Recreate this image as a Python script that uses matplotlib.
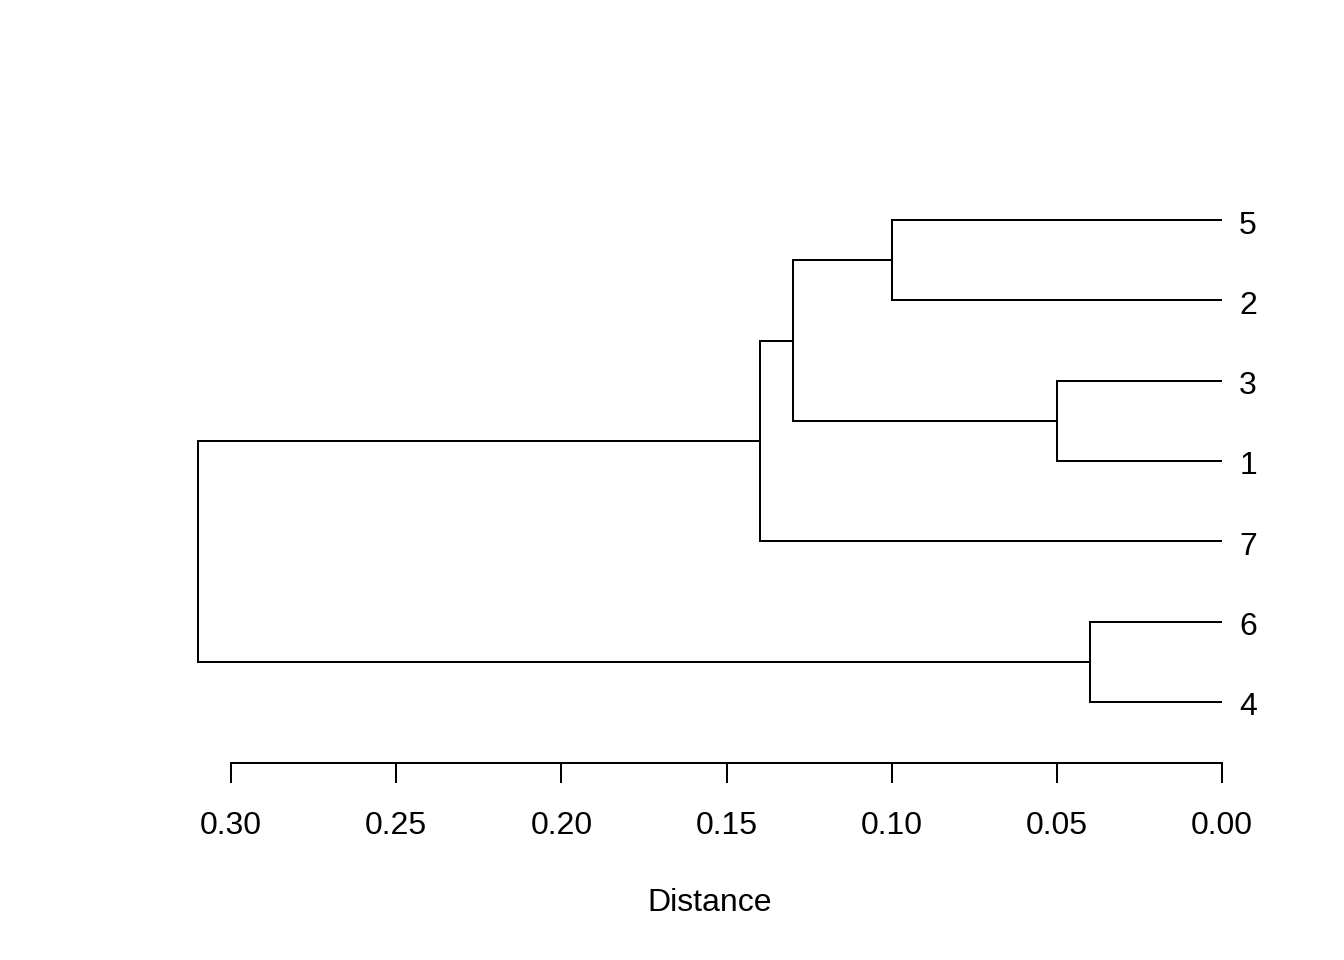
import numpy as np
import matplotlib.pyplot as plt

plt.rcParams['font.family'] = ['Liberation Sans', 'DejaVu Sans']

# hclust-style merges: negative = leaf id, positive = earlier merge step
leaf_order = [5, 2, 3, 1, 7, 6, 4]          # top to bottom
merge_left = [-5, -3, 1, 3, -6, 4]
merge_right = [-2, -1, 2, -7, -4, 5]
heights = [0.10, 0.05, 0.13, 0.14, 0.04, 0.31]
ticks = [0.30, 0.25, 0.20, 0.15, 0.10, 0.05, 0.00]
tick_labels = ["0.30", "0.25", "0.20", "0.15", "0.10", "0.05", "0.00"]

fig = plt.figure(figsize=(13.44, 9.6), dpi=100)
W, H = 1344, 960
ax = fig.add_axes([157 / W, (H - 763) / H, (1263 - 157) / W, (763 - 159) / H])

n = len(leaf_order)
leaf_y = {lab: n - i for i, lab in enumerate(leaf_order)}
node_pos = {}

def pos(c):
    if c < 0:
        return 0.0, leaf_y[-c]
    return node_pos[c]

lw = 1.44
for k, (a, b, h) in enumerate(zip(merge_left, merge_right, heights), start=1):
    xa, ya = pos(a)
    xb, yb = pos(b)
    ax.plot([xa, h, h, xb], [ya, ya, yb, yb], color='black', lw=lw,
            solid_joinstyle='miter', solid_capstyle='butt')
    node_pos[k] = (h, (ya + yb) / 2)

for lab, y in leaf_y.items():
    ax.text(-0.0052, y - 0.168, str(lab), fontsize=23, va='baseline', ha='left')

ax.set_xlim(0.3224, -0.0124)
ax.set_ylim(0.24, 7.76)
for s in ['top', 'left', 'right']:
    ax.spines[s].set_visible(False)
ax.spines['bottom'].set_bounds(0.0, 0.30)
ax.spines['bottom'].set_linewidth(lw)
ax.set_yticks([])
ax.set_xticks(ticks)
ax.set_xticklabels(tick_labels)
ax.tick_params(axis='x', length=14.4, width=lw, labelsize=23, pad=20)
ax.set_xlabel("Distance", fontsize=23, labelpad=34)

fig.savefig("out.png", dpi=100)
